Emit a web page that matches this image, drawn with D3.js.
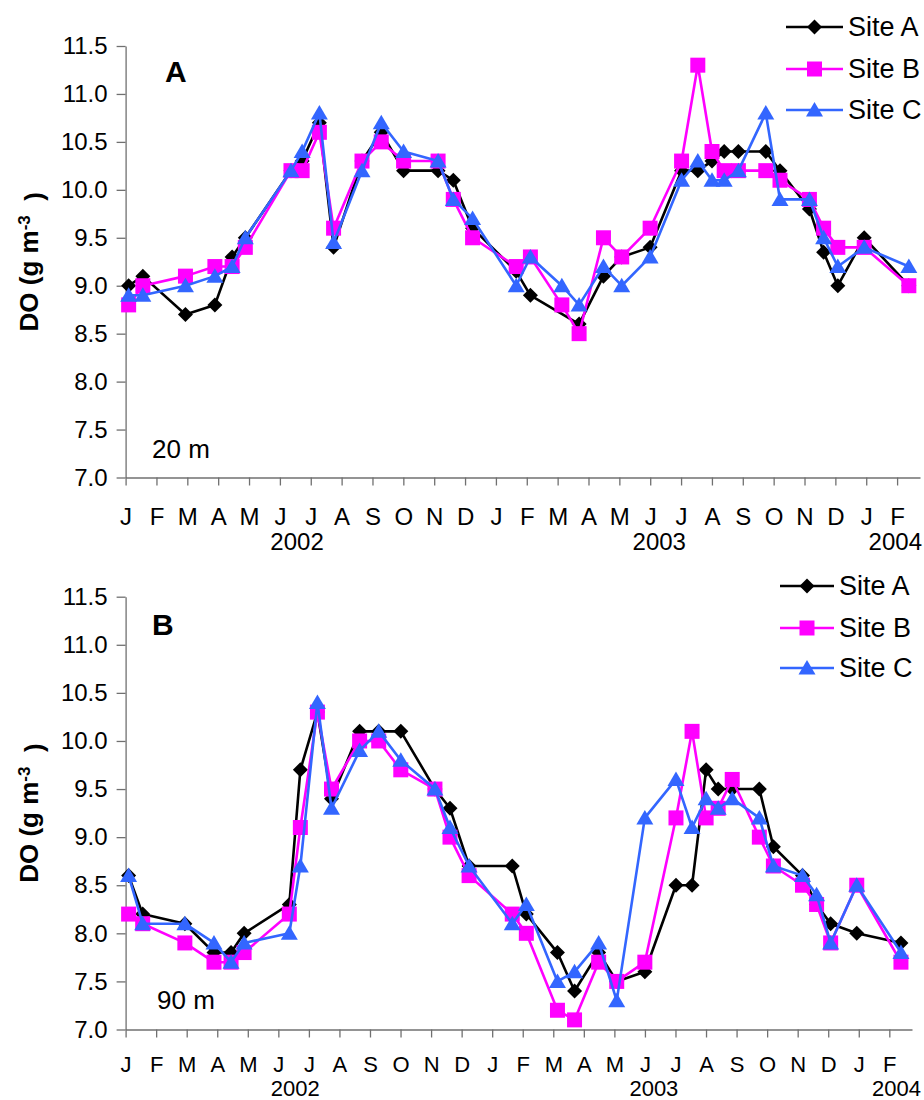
<!DOCTYPE html>
<html>
<head>
<meta charset="utf-8">
<title>DO at 20 m and 90 m</title>
<script src="https://d3js.org/d3.v7.min.js"></script>
<style>
    body {
        margin: 0;
        background-color: #FFFFFF;
    }
    svg {
        font-family: "Liberation Sans", Arial, sans-serif;
    }
    .series-line {
        fill: none;
        stroke-width: 2.6px;
        stroke-linejoin: round;
    }
    .axis path, .axis line {
        stroke: #707070;
        stroke-width: 1.3px;
    }
    .axis text {
        fill: #000;
    }
</style>
</head>
<body>
<div id="chart"></div>
<script>
    // Sampling dates (same for both depths)
    var sampleDates = ["2002-01-04", "2002-01-18", "2002-03-01", "2002-03-30", "2002-04-16", "2002-04-29",
        "2002-06-13", "2002-06-24", "2002-07-11", "2002-07-25", "2002-08-22", "2002-09-10", "2002-10-02",
        "2002-11-05", "2002-11-20", "2002-12-09", "2003-01-21", "2003-02-04", "2003-03-07", "2003-03-24",
        "2003-04-17", "2003-05-05", "2003-06-02", "2003-07-03", "2003-07-19", "2003-08-02", "2003-08-14",
        "2003-08-28", "2003-09-24", "2003-10-08", "2003-11-06", "2003-11-20", "2003-12-04", "2003-12-30",
        "2004-02-12"];

    // DO (g m-3) at 20 m
    var siteA20 = [9.0, 9.1, 8.7, 8.8, 9.3, 9.5, 10.2, 10.3, 10.7, 9.4, 10.3, 10.6, 10.2, 10.2, 10.1, 9.6, 9.15, 8.9, null, 8.6,
        9.1, 9.3, 9.4, 10.2, 10.2, 10.3, 10.4, 10.4, 10.4, 10.2, 9.8, 9.35, 9.0, 9.5, 9.0];
    var siteB20 = [8.8, 9.0, 9.1, 9.2, 9.2, 9.4, 10.2, 10.2, 10.6, 9.6, 10.3, 10.5, 10.3, 10.3, 9.9, 9.5, 9.2, 9.3, 8.8, 8.5,
        9.5, 9.3, 9.6, 10.3, 11.3, 10.4, 10.2, 10.2, 10.2, 10.1, 9.9, 9.6, 9.4, 9.4, 9.0];
    var siteC20 = [8.9, 8.9, 9.0, 9.1, 9.2, 9.5, 10.2, 10.4, 10.8, 9.45, 10.2, 10.7, 10.4, 10.3, 9.9, 9.7, 9.0, 9.3, 9.0, 8.8,
        9.2, 9.0, 9.3, 10.1, 10.3, 10.1, 10.1, 10.2, 10.8, 9.9, 9.9, 9.5, 9.2, 9.4, 9.2];

    // DO (g m-3) at 90 m
    var siteA90 = [8.6, 8.2, 8.1, 7.8, 7.8, 8.0, 8.3, 9.7, 10.3, 9.4, 10.1, 10.1, 10.1, 9.5, 9.3, 8.7, 8.7, 8.2, 7.8, 7.4,
        7.8, 7.5, 7.6, 8.5, 8.5, 9.7, 9.5, 9.5, 9.5, 8.9, 8.6, 8.3, 8.1, 8.0, 7.9];
    var siteB90 = [8.2, 8.1, 7.9, 7.7, 7.7, 7.8, 8.2, 9.1, 10.3, 9.5, 10.0, 10.0, 9.7, 9.5, 9.0, 8.6, 8.2, 8.0, 7.2, 7.1,
        7.7, 7.5, 7.7, 9.2, 10.1, 9.2, 9.3, 9.6, 9.0, 8.7, 8.5, 8.3, 7.9, 8.5, 7.7];
    var siteC90 = [8.6, 8.1, 8.1, 7.9, 7.7, 7.9, 8.0, 8.7, 10.4, 9.3, 9.9, 10.1, 9.8, 9.5, 9.1, 8.7, 8.1, 8.3, 7.5, 7.6,
        7.9, 7.3, 9.2, 9.6, 9.1, 9.4, 9.3, 9.4, 9.2, 8.7, 8.6, 8.4, 7.9, 8.5, 7.8];

    // Axis labels
    var monthLabels = ["J", "F", "M", "A", "M", "J", "J", "A", "S", "O", "N", "D",
        "J", "F", "M", "A", "M", "J", "J", "A", "S", "O", "N", "D", "J", "F"];
    var yearLabels = ["2002", "2003", "2004"];
    var yTicks = [7.0, 7.5, 8.0, 8.5, 9.0, 9.5, 10.0, 10.5, 11.0, 11.5];
    var siteNames = ["Site A", "Site B", "Site C"];


    // days since 1 Jan 2002
    var parseDate = d3.utcParse("%Y-%m-%d");
    var t0 = parseDate("2002-01-01");
    var sampleDays = sampleDates.map(function(s) {
        return d3.utcDay.count(t0, parseDate(s));
    });
    var monthStep = 365 / 12;

    var markerPaths = {
        diamond: "M0,-7.5L7.5,0L0,7.5L-7.5,0Z",
        square: "M-7.5,-7.5H7.5V7.5H-7.5Z",
        triangle: "M0,-8L8.5,6.5L-8.5,6.5Z"
    };
    var siteStyles = [
        { color: "#000000", marker: "diamond" },
        { color: "#FF00FF", marker: "square" },
        { color: "#3366FF", marker: "triangle" }
    ];

    var svg = d3.select("#chart")
        .append("svg")
        .attr("width", 924)
        .attr("height", 1100);

    function drawPanel(p) {
        var g = svg.append("g");

        var x = d3.scaleLinear()
            .domain([0, 783])
            .range([p.left, p.right]);
        var y = d3.scaleLinear()
            .domain([7, 11.5])
            .range([p.bottom, p.top]);

        // y axis
        g.append("g")
            .attr("class", "axis")
            .attr("transform", "translate(" + p.left + ",0)")
            .call(d3.axisLeft(y)
                .tickValues(yTicks)
                .tickFormat(d3.format(".1f"))
                .tickSize(9)
                .tickSizeOuter(0)
                .tickPadding(9))
            .selectAll("text")
            .style("font-size", "24px");

        // x axis
        g.append("g")
            .attr("class", "axis")
            .attr("transform", "translate(0," + p.bottom + ")")
            .call(d3.axisBottom(x)
                .tickValues(d3.range(monthLabels.length).map(function(i) { return i * monthStep; }))
                .tickFormat(function(d, i) { return monthLabels[i]; })
                .tickSize(8)
                .tickSizeOuter(0)
                .tickPadding(p.monthPad))
            .selectAll("text")
            .style("font-size", p.xFont);

        // year labels
        var yearPos = [x(169), x(526), p.yearEndX];
        yearLabels.forEach(function(yr, i) {
            g.append("text")
                .attr("x", yearPos[i])
                .attr("y", p.bottom + p.yearDy)
                .attr("text-anchor", i === 2 ? "end" : "middle")
                .style("font-size", p.xFont)
                .text(yr);
        });

        // y title
        var title = g.append("text")
            .attr("transform", "translate(38," + ((p.top + p.bottom) / 2) + ") rotate(-90)")
            .attr("text-anchor", "middle")
            .style("font-size", "26px")
            .style("font-weight", "bold");
        title.append("tspan").text("DO (g m");
        title.append("tspan").attr("dy", "-0.5em").style("font-size", "17px").text("-3");
        title.append("tspan").attr("dy", "0.5em").text("\u00a0\u00a0)");

        // panel letter and depth
        g.append("text")
            .attr("x", p.letterX)
            .attr("y", p.letterY)
            .style("font-size", "30px")
            .style("font-weight", "bold")
            .text(p.letter);

        g.append("text")
            .attr("x", p.depthX)
            .attr("y", p.depthY)
            .style("font-size", "26px")
            .text(p.depth);

        // series
        p.series.forEach(function(vals, k) {
            var st = siteStyles[k];
            var pts = sampleDays.map(function(d, i) { return { day: d, v: vals[i] }; })
                .filter(function(d) { return d.v !== null; });

            g.append("path")
                .datum(pts)
                .attr("class", "series-line")
                .attr("stroke", st.color)
                .attr("d", d3.line()
                    .x(function(d) { return x(d.day); })
                    .y(function(d) { return y(d.v); }));

            g.selectAll(".mk" + k)
                .data(pts)
                .enter()
                .append("path")
                .attr("class", "mk" + k)
                .attr("d", markerPaths[st.marker])
                .attr("fill", st.color)
                .attr("transform", function(d) {
                    return "translate(" + x(d.day) + "," + y(d.v) + ")";
                });
        });

        // legend
        siteNames.forEach(function(name, k) {
            var st = siteStyles[k];
            var ly = p.legendY[k];
            g.append("line")
                .attr("x1", p.legendX1)
                .attr("x2", p.legendX2)
                .attr("y1", ly)
                .attr("y2", ly)
                .attr("stroke", st.color)
                .attr("stroke-width", 2.6);
            g.append("path")
                .attr("d", markerPaths[st.marker])
                .attr("fill", st.color)
                .attr("transform", "translate(" + ((p.legendX1 + p.legendX2) / 2) + "," + ly + ")");
            g.append("text")
                .attr("x", p.legendX2 + 5)
                .attr("y", ly)
                .attr("dy", "0.35em")
                .style("font-size", "27px")
                .text(name);
        });
    }

    drawPanel({
        left: 125.6, right: 920, top: 46, bottom: 477.5,
        xFont: "24px", monthPad: 22, yearDy: 72, yearEndX: 922,
        letter: "A", letterX: 165, letterY: 82,
        depth: "20 m", depthX: 152, depthY: 458,
        legendX1: 786, legendX2: 843, legendY: [27, 69, 110],
        series: [siteA20, siteB20, siteC20]
    });

    drawPanel({
        left: 125.6, right: 912, top: 596.7, bottom: 1029.5,
        xFont: "22px", monthPad: 19, yearDy: 66.5, yearEndX: 921,
        letter: "B", letterX: 152, letterY: 635,
        depth: "90 m", depthX: 157, depthY: 1009,
        legendX1: 780, legendX2: 834, legendY: [586, 628, 668],
        series: [siteA90, siteB90, siteC90]
    });
</script>
</body>
</html>
